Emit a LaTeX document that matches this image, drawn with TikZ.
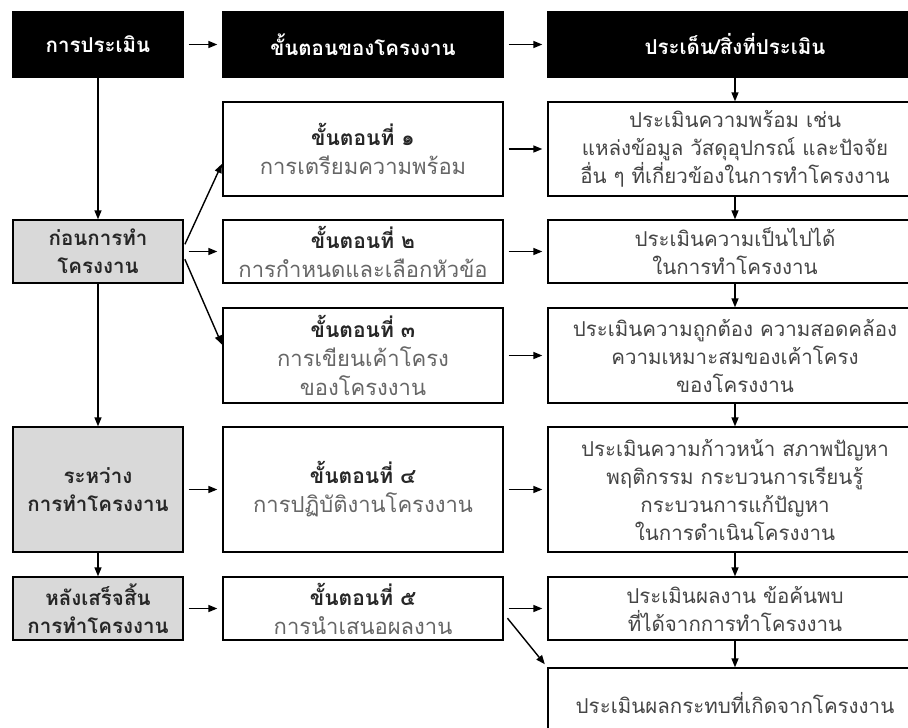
\documentclass[tikz,border=0pt]{standalone}
\usepackage{fontspec}
\setmainfont[Script=Thai]{Loma}
\usepackage{tikz}
\usetikzlibrary{arrows.meta, positioning}

\definecolor{sidegray}{HTML}{D9D9D9}
\definecolor{bodytext}{HTML}{454545}

\begin{document}
\begin{tikzpicture}[x=1pt, y=-1pt,
    box/.style={draw, line width=1.3pt, align=center, inner sep=0pt,
                font=\fontsize{20.5}{28}\selectfont},
    headbox/.style={box, fill=black, text=white, font=\fontsize{20.5}{28}\selectfont\bfseries},
    sidebox/.style={box, fill=sidegray, text=black!85, font=\fontsize{20.5}{28}\selectfont\bfseries,
                    minimum width=170pt},
    stepbox/.style={box, text=black!60, minimum width=280pt, font=\fontsize{22}{29}\selectfont},
    evalbox/.style={box, text=bodytext, minimum width=374pt},
    arr/.style={-{Triangle[length=9pt,width=7pt]}, line width=1.4pt},
    harr/.style={arr, shorten <=5pt, shorten >=5pt}]
                \clip (0,0) rectangle (908,728);
                \fill[white] (0,0) rectangle (908,728);

                % Header row
                \node[headbox, minimum width=170pt, minimum height=65pt] (h1) at (98,44.5) {การประเมิน};
                \node[headbox, minimum width=280pt, minimum height=65pt] (h2) at (363,44.5) {ขั้นตอนของโครงงาน};
                \node[headbox, minimum width=374pt, minimum height=65pt] (h3) at (735,44.5) {ประเด็น/สิ่งที่ประเมิน};

                % Time of evaluation
                \node[sidebox, minimum height=63pt] (g1) at (98,251.5) {ก่อนการทำ\\โครงงาน};
                \node[sidebox, minimum height=125pt] (g2) at (98,489.5) {ระหว่าง\\การทำโครงงาน};
                \node[sidebox, minimum height=63pt] (g3) at (98,608.5) {หลังเสร็จสิ้น\\การทำโครงงาน};

                % Project steps
                \node[stepbox, minimum height=94pt] (s1) at (363,149)
                    {{\fontsize{21}{29}\selectfont\bfseries\color{black!85} ขั้นตอนที่ ๑}\\การเตรียมความพร้อม};
                \node[stepbox, minimum height=63pt] (s2) at (363,251.5)
                    {{\fontsize{21}{29}\selectfont\bfseries\color{black!85} ขั้นตอนที่ ๒}\\การกำหนดและเลือกหัวข้อ};
                \node[stepbox, minimum height=95pt] (s3) at (363,355.5)
                    {{\fontsize{21}{29}\selectfont\bfseries\color{black!85} ขั้นตอนที่ ๓}\\การเขียนเค้าโครง\\ของโครงงาน};
                \node[stepbox, minimum height=125pt] (s4) at (363,489.5)
                    {{\fontsize{21}{29}\selectfont\bfseries\color{black!85} ขั้นตอนที่ ๔}\\การปฏิบัติงานโครงงาน};
                \node[stepbox, minimum height=63pt] (s5) at (363,608.5)
                    {{\fontsize{21}{29}\selectfont\bfseries\color{black!85} ขั้นตอนที่ ๕}\\การนำเสนอผลงาน};

                % What is evaluated
                \node[evalbox, minimum height=94pt] (r1) at (735,149)
                    {ประเมินความพร้อม เช่น\\แหล่งข้อมูล วัสดุอุปกรณ์ และปัจจัย\\อื่น ๆ ที่เกี่ยวข้องในการทำโครงงาน};
                \node[evalbox, minimum height=63pt] (r2) at (735,251.5)
                    {ประเมินความเป็นไปได้\\ในการทำโครงงาน};
                \node[evalbox, minimum height=95pt] (r3) at (735,355.5)
                    {ประเมินความถูกต้อง ความสอดคล้อง\\ความเหมาะสมของเค้าโครง\\ของโครงงาน};
                \node[evalbox, minimum height=125pt] (r4) at (735,489.5)
                    {ประเมินความก้าวหน้า สภาพปัญหา\\พฤติกรรม กระบวนการเรียนรู้\\กระบวนการแก้ปัญหา\\ในการดำเนินโครงงาน};
                \node[evalbox, minimum height=63pt] (r5) at (735,608.5)
                    {ประเมินผลงาน ข้อค้นพบ\\ที่ได้จากการทำโครงงาน};
                \node[evalbox, minimum height=70pt] (r6) at (735,703)
                    {ประเมินผลกระทบที่เกิดจากโครงงาน};

                % Header arrows
                \draw[harr] (h1) -- (h2);
                \draw[harr] (h2) -- (h3);

                % Left column
                \draw[arr] (h1) -- (g1);
                \draw[arr] (g1) -- (g2);
                \draw[arr] (g2) -- (g3);

                % Into the steps
                \draw[arr, shorten <=3pt, shorten >=1pt] ([yshift=4.5pt]g1.east) -- ([yshift=-14pt]s1.west);
                \draw[harr] (g1) -- (s2);
                \draw[arr, shorten <=3pt, shorten >=1pt] ([yshift=-5pt]g1.east) -- ([yshift=10pt]s3.west);
                \draw[harr] (g2) -- (s4);
                \draw[harr] (g3) -- (s5);

                % Steps to evaluation
                \draw[harr] (s1) -- (r1);
                \draw[harr] (s2) -- (r2);
                \draw[harr] (s3) -- (r3);
                \draw[harr] (s4) -- (r4);
                \draw[harr] (s5) -- (r5);
                \draw[arr, shorten <=6pt, shorten >=4pt] ([yshift=-5pt]s5.east) -- (r6.north west);

                % Right column
                \draw[arr] (h3) -- (r1);
                \draw[arr] (r1) -- (r2);
                \draw[arr] (r2) -- (r3);
                \draw[arr] (r3) -- (r4);
                \draw[arr] (r4) -- (r5);
                \draw[arr] (r5) -- (r6);
\end{tikzpicture}
\end{document}
